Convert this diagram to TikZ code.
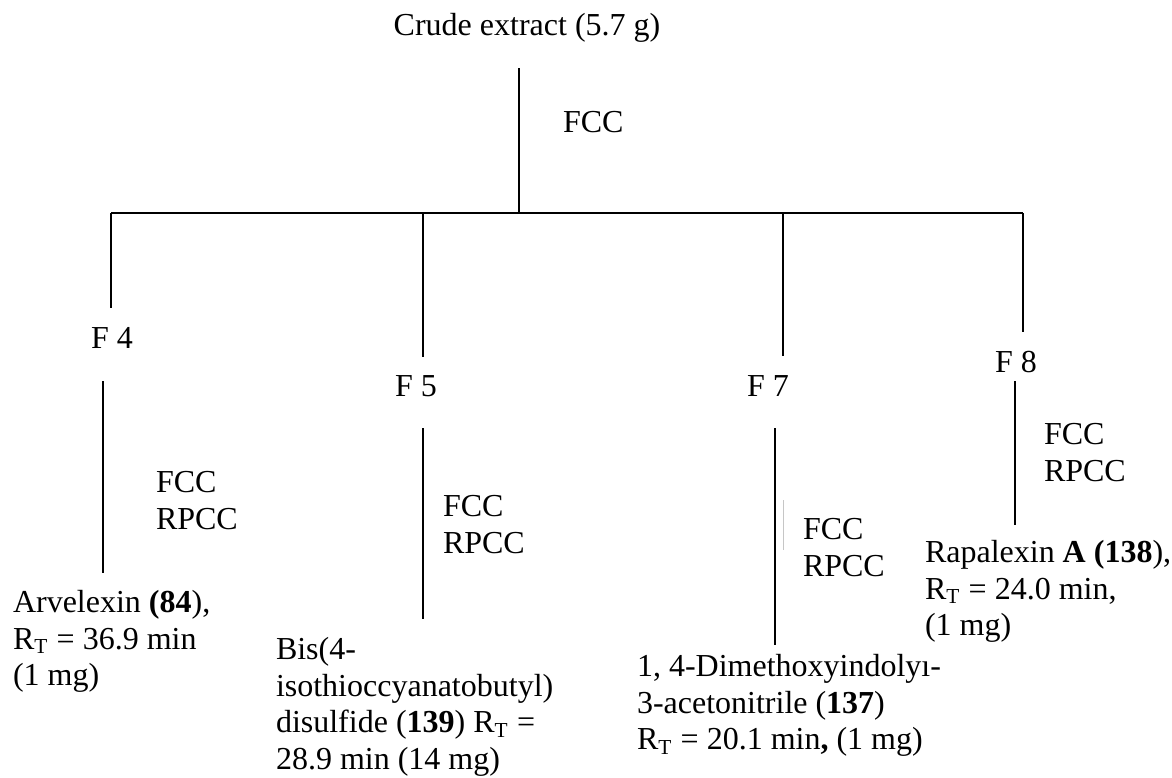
\documentclass[tikz,border=0pt]{standalone}
\usepackage{fontspec}
\setmainfont{Liberation Serif}
\begin{document}
\begin{tikzpicture}[x=0.375pt, y=-0.375pt, line width=0.75pt,
  txt/.style={font=\fontsize{12}{13.7}\selectfont, inner sep=0pt, outer sep=0pt, align=left}]
  \useasboundingbox (0,0) rectangle (1172,777);
  % Rohextrakt
  \node[txt, anchor=base] (crude) at (527,35) {Crude extract (5.7 g)};
  \coordinate (top) at (519,68);
  \coordinate (hub) at (519,213);
  \draw (top) -- (hub);
  \node[txt, anchor=base west] (fcc) at (563,132) {FCC};
  % Querbalken
  \coordinate (b4) at (111,213);
  \coordinate (b5) at (423,213);
  \coordinate (b7) at (783,213);
  \coordinate (b8) at (1023,213);
  \draw (b4) -- (b8);
  \coordinate (e4) at (111,308);
  \coordinate (e5) at (423,357);
  \coordinate (e7) at (783,356);
  \coordinate (e8) at (1023,332);
  \draw (b4) -- (e4);
  \draw (b5) -- (e5);
  \draw (b7) -- (e7);
  \draw (b8) -- (e8);
  % Fraktionen
  \node[txt, anchor=base west] (f4) at (91,348) {F 4};
  \node[txt, anchor=base west] (f5) at (395,396) {F 5};
  \node[txt, anchor=base west] (f7) at (747,396) {F 7};
  \node[txt, anchor=base west] (f8) at (995,372) {F 8};
  \coordinate (s4) at (103,381);
  \coordinate (t4) at (103,573);
  \coordinate (s5) at (423,428);
  \coordinate (t5) at (423,619);
  \coordinate (s7) at (775,428);
  \coordinate (t7) at (775,645);
  \coordinate (s8) at (1015,381);
  \coordinate (t8) at (1015,525);
  \draw (s4) -- (t4);
  \draw (s5) -- (t5);
  \draw (s7) -- (t7);
  \draw (s8) -- (t8);
  \coordinate (g1) at (783,500);
  \coordinate (g2) at (783,550);
  \draw[gray!45, line width=0.3pt] (g1) -- (g2);
  % Trennschritte
  \node[txt, anchor=north west] (sep4) at (156,467) {\strut FCC\\RPCC};
  \node[txt, anchor=north west] (sep5) at (443,491) {\strut FCC\\RPCC};
  \node[txt, anchor=north west] (sep7) at (803,514) {\strut FCC\\RPCC};
  \node[txt, anchor=north west] (sep8) at (1044,419) {\strut FCC\\RPCC};
  % Reinsubstanzen
  \node[txt, anchor=north west] (arv) at (13,587)
    {\strut Arvelexin \textbf{(84}),\\R\textsubscript{T} = 36.9 min\\(1 mg)};
  \node[txt, anchor=north west] (bis) at (276,634)
    {\strut Bis(4-\\isothioccyanatobutyl)\\disulfide (\textbf{139}) R\textsubscript{T} =\\28.9 min (14 mg)};
  \node[txt, anchor=north west] (dmi) at (637,651)
    {\strut 1, 4-Dimethoxyindolyı-\\3-acetonitrile (\textbf{137})\\R\textsubscript{T} = 20.1 min\textbf{,} (1 mg)};
  \node[txt, anchor=north west] (rap) at (925,537)
    {\strut Rapalexin \textbf{A (138}),\\R\textsubscript{T} = 24.0 min,\\(1 mg)};
\end{tikzpicture}
\end{document}
